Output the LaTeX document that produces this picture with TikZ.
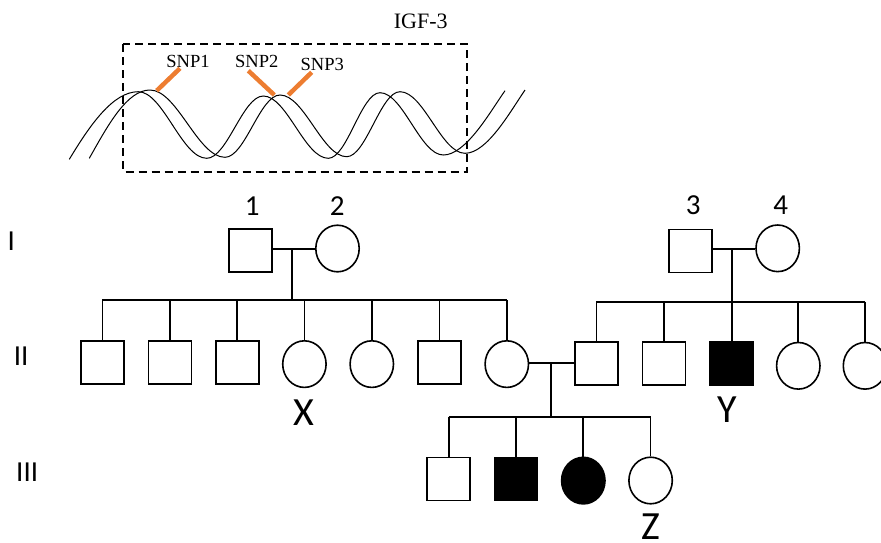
\documentclass[tikz,border=0pt]{standalone}
\usepackage{fontspec}
\setmainfont{Liberation Serif}
\newfontfamily\pedfont{Carlito}
\usetikzlibrary{shapes.geometric}
\definecolor{snporange}{HTML}{ED7D31}
\begin{document}
\begin{tikzpicture}[x=1pt,y=-1pt,
  male/.style={draw,line width=1.6pt,rectangle,minimum size=43pt,inner sep=0pt},
  female/.style={draw,line width=1.6pt,ellipse,minimum width=43.4pt,minimum height=46.6pt,inner sep=0pt},
  aff/.style={fill=black},
  link/.style={line width=1.7pt},
  numlab/.style={font=\pedfont\fontsize{29}{34}\selectfont,inner sep=0pt},
  genlab/.style={font=\pedfont\fontsize{29}{34}\selectfont,inner sep=0pt},
  idlab/.style={font=\pedfont\fontsize{40}{46}\selectfont,inner sep=0pt},
  snplab/.style={font=\fontsize{18.5}{22}\selectfont,inner sep=0pt},
  genelab/.style={font=\fontsize{22}{26}\selectfont,inner sep=0pt},
  strand/.style={line width=1pt},
  snpbar/.style={line width=4.5pt,draw=snporange},
  genebox/.style={draw,line width=2.2pt,dash pattern=on 8pt off 5pt}
]
\useasboundingbox (0,0) rectangle (881,542);
\clip (0,0) rectangle (881,542);

% ---------- gene box with helix ----------
\node[genelab] (igf) at (420.8,21.7) {IGF-3};
\draw[genebox] (123.3,44) rectangle (466.7,171.7);
\draw[strand] (69.3,159.3) .. controls (90,125) and (113,91.7) .. (138.3,91.7)
  .. controls (163.1,91.7) and (181.9,158.3) .. (206.7,158.3)
  .. controls (227.2,158.3) and (242.8,96) .. (263.3,96)
  .. controls (286.9,96) and (304.7,158.3) .. (328.3,158.3)
  .. controls (347.1,158.3) and (361.2,92.7) .. (380,92.7)
  .. controls (403,92.7) and (420.3,155) .. (443.3,155)
  .. controls (466,155) and (490,112) .. (505,90.7);
\draw[strand] (89.3,158.3) .. controls (108,125) and (127,90) .. (150,90)
  .. controls (177.2,90) and (197.8,157.3) .. (225,157.3)
  .. controls (245,157.3) and (260,95) .. (280,95)
  .. controls (304.2,95) and (322.5,156.7) .. (346.7,156.7)
  .. controls (366.1,156.7) and (380.6,91.7) .. (400,91.7)
  .. controls (423.6,91.7) and (441.4,153.3) .. (465,153.3)
  .. controls (487,153.3) and (510,112) .. (525,90);
\node[snplab] (snp1) at (188,61.7) {SNP1};
\node[snplab] (snp2) at (256.7,61.7) {SNP2};
\node[snplab] (snp3) at (322.3,64.5) {SNP3};
\coordinate (b1a) at (156.7,90.7); \coordinate (b1b) at (180,68.3);
\coordinate (b2a) at (248.3,70.7); \coordinate (b2b) at (274.3,95);
\coordinate (b3a) at (288.3,95);   \coordinate (b3b) at (311.7,72.3);
\draw[snpbar] (b1a) -- (b1b);
\draw[snpbar] (b2a) -- (b2b);
\draw[snpbar] (b3a) -- (b3b);

% ---------- generation labels ----------
\node[genlab] (gI) at (11.3,241.3) {I};
\node[genlab] (gII) at (21.2,355.8) {II};
\node[genlab] (gIII) at (27.2,471.7) {III};

% ---------- generation I ----------
\node[male] (p1) at (250.2,250.7) {};
\node[female] (p2) at (337.5,248.5) {};
\node[male] (p3) at (690.7,250.8) {};
\node[female] (p4) at (777.7,248.3) {};
\node[numlab] (l1) at (252.2,205.8) {1};
\node[numlab] (l2) at (337.3,205.8) {2};
\node[numlab] (l3) at (693.3,205.5) {3};
\node[numlab] (l4) at (780.8,205.5) {4};

\coordinate (m1) at (292.3,249.3);
\coordinate (s1) at (292.3,300);
\coordinate (m2) at (732.3,249.3);
\coordinate (s2) at (732.3,301.7);
\draw[link] (p1.east |- m1) -- (p2.west |- m1);
\draw[link] (p3.east |- m2) -- (p4.west |- m2);
\draw[link] (m1) -- (s1);
\draw[link] (m2) -- (s2);

% ---------- generation II, left family ----------
\node[male] (a1) at (102.4,362.2) {};
\node[male] (a2) at (169.8,362.2) {};
\node[male] (a3) at (237.2,362.2) {};
\node[female] (a4) at (304.4,364.1) {};
\node[female] (a5) at (371.8,364.1) {};
\node[male] (a6) at (439.6,362.2) {};
\node[female] (a7) at (506.8,364.1) {};
\draw[link] (a1.north |- s1) -- (a7.north |- s1);
\foreach \c in {a1,a2,a3,a4,a5,a6,a7}{\draw[link] (\c.north |- s1) -- (\c.north);}

% ---------- generation II, right family ----------
\node[male] (b1) at (596.4,363.5) {};
\node[male] (b2) at (664,363.5) {};
\node[male,aff] (b3) at (731.5,363.5) {};
\node[female] (b4) at (798.3,365.8) {};
\node[female] (b5) at (865,365.8) {};
\draw[link] (b1.north |- s2) -- (b5.north |- s2);
\foreach \c in {b1,b2,b4,b5}{\draw[link] (\c.north |- s2) -- (\c.north);}
\draw[link] (s2) -- (s2 |- b3.north);

\node[idlab] (lx) at (304.2,412.5) {X};
\node[idlab] (ly) at (727.5,409.7) {Y};

% ---------- marriage II and generation III ----------
\coordinate (m3) at (551,362.7);
\coordinate (s3) at (551,416.7);
\draw[link] (a7.east |- m3) -- (b1.west |- m3);
\draw[link] (m3) -- (s3);
\node[male] (c1) at (448.7,478.8) {};
\node[male,aff] (c2) at (515.8,478.8) {};
\node[female,aff] (c3) at (583.3,480.6) {};
\node[female] (c4) at (650.6,480.5) {};
\draw[link] (c1.north |- s3) -- (c4.north |- s3);
\foreach \c in {c1,c2,c3,c4}{\draw[link] (\c.north |- s3) -- (\c.north);}
\node[idlab] (lz) at (651.2,527) {Z};
\end{tikzpicture}
\end{document}
